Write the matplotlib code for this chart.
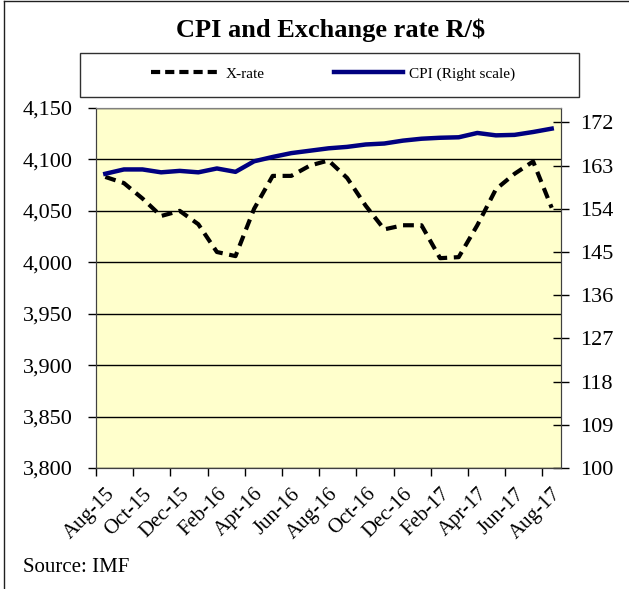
import matplotlib.pyplot as plt
import numpy as np
from matplotlib.patches import Rectangle
from matplotlib.lines import Line2D

plt.rcParams['font.family'] = ['Liberation Serif', 'DejaVu Serif']

# data (monthly, Aug-15 .. Aug-17)
months = ['Aug-15', 'Sep-15', 'Oct-15', 'Nov-15', 'Dec-15', 'Jan-16', 'Feb-16',
          'Mar-16', 'Apr-16', 'May-16', 'Jun-16', 'Jul-16', 'Aug-16', 'Sep-16',
          'Oct-16', 'Nov-16', 'Dec-16', 'Jan-17', 'Feb-17', 'Mar-17', 'Apr-17',
          'May-17', 'Jun-17', 'Jul-17', 'Aug-17']
xrate = [4083, 4077, 4062, 4045, 4050, 4037, 4010, 4006, 4052, 4084, 4084, 4094,
         4099, 4082, 4055, 4032, 4036, 4036, 4004, 4005, 4036, 4071, 4086, 4098, 4053]
cpi = [161.3, 162.2, 162.2, 161.6, 161.9, 161.6, 162.4, 161.7, 163.9, 164.8, 165.6,
       166.1, 166.6, 166.9, 167.4, 167.6, 168.2, 168.6, 168.8, 168.9, 169.8, 169.3,
       169.4, 170.0, 170.7]

W, H = 629, 589
fig = plt.figure(figsize=(W/100, H/100), dpi=100)

# plot area
ax = fig.add_axes([96/W, 1-468/H, 465/W, 360/H])
ax.set_facecolor('#FFFFCC')
x = np.arange(len(months)) + 0.5

ax.plot(x, xrate, color='black', lw=3, ls=(0, (2.6, 1.6)), dash_capstyle='butt')
ax.set_xlim(0, len(months))
ax.set_ylim(3800, 4150)
ax.set_yticks(np.arange(3800, 4151, 50))
ax.yaxis.set_major_formatter(lambda v, p: f'{v:,.0f}')
ax.grid(axis='y', color='black', lw=1)
ax.set_axisbelow(True)
ax.tick_params(axis='y', direction='out', length=6, width=1, pad=11, labelsize=16)

# x ticks: marks at category edges, labels at centres
ax.set_xticks(np.arange(0, len(months), 2), minor=True)
ax.set_xticks(x[::2])
ax.set_xticklabels(months[::2], rotation=45, ha='right', va='top', rotation_mode='anchor')
ax.tick_params(axis='x', which='major', length=0, pad=12, labelsize=15)
ax.tick_params(axis='x', which='minor', direction='out', length=6, width=1)

# right scale
ax2 = ax.twinx()
ax2.plot(x, cpi, color='#000080', lw=3.2, solid_joinstyle='round')
ax2.set_ylim(100, 175)
ax2.set_yticks(np.arange(100, 173, 9))
ax2.tick_params(axis='y', direction='inout', length=12, width=1, pad=8, labelsize=16)

for a in (ax, ax2):
    for s in a.spines.values():
        s.set_color('#404040')
    a.spines['top'].set_color('#808080')

# title, legend box, source
fig.text(331/W, 1-30/H, 'CPI and Exchange rate R/$', ha='center', va='center',
         fontsize=19, fontweight='bold')
fig.add_artist(Rectangle((80/W, 1-97/H), 499/W, 44/H, transform=fig.transFigure,
                         fill=False, ec='#303030', lw=1))
handles = [Line2D([], [], color='black', lw=3, ls=(0, (2.2, 1.2))),
           Line2D([], [], color='#000080', lw=3.2)]
fig.legend(handles, ['X-rate', 'CPI (Right scale)'], loc='center',
           bbox_to_anchor=(333/W, 1-74/H), ncol=2, frameon=False, fontsize=11,
           handlelength=4.5, handletextpad=0.4, columnspacing=4.5)
fig.text(23/W, 1-567/H, 'Source: IMF', fontsize=15, va='center')

# outer border (top and left)
fig.add_artist(Line2D([4/W, 4/W], [0, 1-1/H], transform=fig.transFigure, color='#202020', lw=1))
fig.add_artist(Line2D([4/W, 1], [1-1/H, 1-1/H], transform=fig.transFigure, color='#202020', lw=1))

plt.savefig('out.png', dpi=100)
